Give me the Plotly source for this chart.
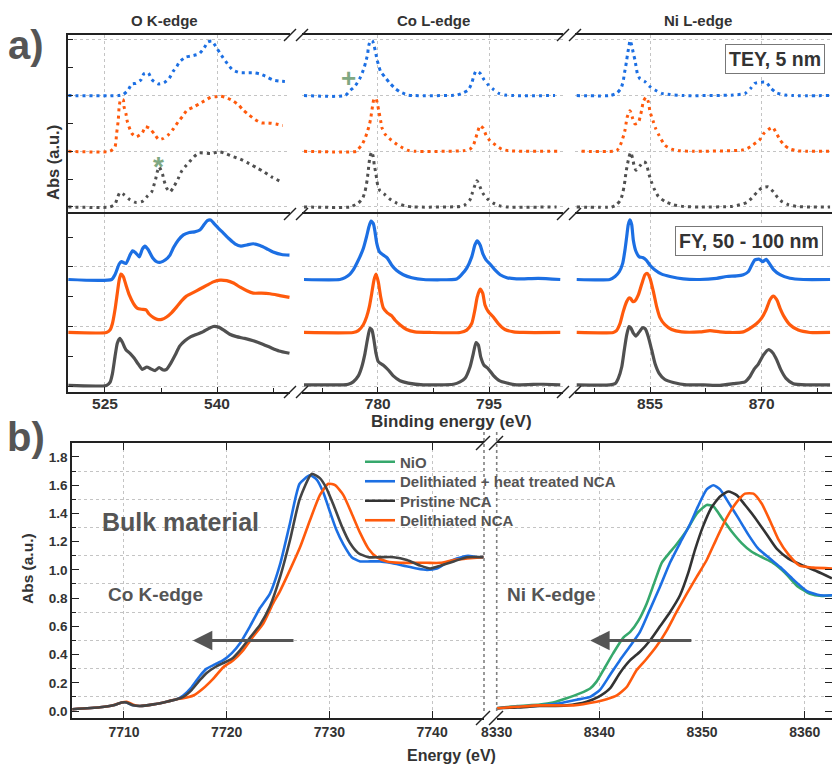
import plotly.graph_objects as go

W, H = 832, 765

# ---------------- Panel a) : TEY (dotted) ----------------
tey_o_blue_x = [520.1, 526.8, 527.45, 528.1, 528.6, 529.15, 529.8, 530.2, 530.8, 531.25, 532.1, 532.9, 533.6, 534.1, 534.6, 535.0, 535.8, 536.5, 537.6, 538.25, 538.75, 539.3, 539.9, 540.4, 541.4, 542.1, 543.1, 544.0, 544.9, 545.7, 546.6, 547.5, 548.4, 549.4]
tey_o_blue_y = [2.0, 2.0, 2.02, 2.10, 2.21, 2.22, 2.28, 2.39, 2.41, 2.29, 2.21, 2.23, 2.31, 2.43, 2.52, 2.61, 2.69, 2.71, 2.75, 2.85, 2.96, 2.98, 2.87, 2.76, 2.57, 2.46, 2.41, 2.41, 2.41, 2.39, 2.34, 2.28, 2.26, 2.25]
tey_o_orange_x = [520.1, 525.67, 526.34, 526.56, 526.78, 526.9, 527.1, 527.45, 527.55, 527.8, 528.0, 528.6, 529.2, 530.0, 530.4, 531.0, 531.6, 532.2, 532.8, 533.6, 534.2, 534.8, 535.4, 536.0, 536.8, 537.6, 538.5, 539.15, 539.9, 540.5, 541.3, 542.2, 542.9, 543.5, 544.3, 545.1, 545.95, 546.85, 547.9, 548.8]
tey_o_orange_y = [1.0, 1.0, 1.08, 1.32, 1.56, 1.80, 1.93, 1.92, 1.80, 1.68, 1.53, 1.32, 1.26, 1.33, 1.44, 1.41, 1.31, 1.21, 1.23, 1.31, 1.41, 1.53, 1.63, 1.74, 1.79, 1.85, 1.92, 1.97, 1.98, 1.99, 1.96, 1.90, 1.83, 1.74, 1.65, 1.57, 1.51, 1.51, 1.49, 1.46]
tey_o_gray_x = [520.1, 525.67, 526.34, 526.65, 527.0, 527.55, 528.35, 529.2, 530.0, 530.65, 531.25, 531.55, 531.8, 532.0, 532.25, 532.7, 532.9, 533.25, 533.7, 534.2, 534.8, 535.2, 535.7, 536.3, 536.9, 537.6, 539.15, 540.4, 541.3, 542.2, 543.1, 544.0, 544.7, 545.5, 546.3, 547.3, 548.65]
tey_o_gray_y = [0.0, 0.0, 0.05, 0.16, 0.26, 0.22, 0.13, 0.08, 0.10, 0.19, 0.27, 0.39, 0.51, 0.63, 0.72, 0.59, 0.48, 0.34, 0.27, 0.36, 0.51, 0.63, 0.72, 0.81, 0.90, 0.97, 0.96, 0.99, 0.95, 0.90, 0.86, 0.80, 0.75, 0.69, 0.63, 0.54, 0.45]

tey_co_blue_x = [770.07, 775.6, 776.27, 776.94, 777.6, 778.15, 778.4, 778.65, 778.73, 778.96, 779.27, 779.54, 779.73, 779.9, 780.13, 780.4, 780.98, 781.66, 782.33, 783.1, 784.1, 785.0, 790.65, 791.54, 792.2, 792.67, 792.9, 793.25, 793.8, 794.3, 794.9, 795.6, 796.35, 797.15, 798.3, 803.9]
tey_co_blue_y = [2.0, 2.0, 2.09, 2.17, 2.31, 2.49, 2.61, 2.75, 2.85, 2.97, 2.99, 2.88, 2.77, 2.65, 2.54, 2.43, 2.33, 2.22, 2.13, 2.06, 2.01, 2.0, 2.01, 2.05, 2.10, 2.22, 2.33, 2.44, 2.40, 2.29, 2.19, 2.11, 2.04, 2.01, 2.0, 2.0]
tey_co_orange_x = [770.07, 777.17, 777.39, 777.85, 778.29, 778.6, 778.87, 779.06, 779.19, 779.33, 779.5, 779.77, 779.95, 780.13, 780.4, 780.58, 780.98, 781.56, 782.33, 783.1, 783.99, 785.0, 791.54, 792.44, 792.89, 793.2, 793.47, 793.79, 794.23, 794.6, 795.13, 795.9, 796.7, 797.6, 804.3]
tey_co_orange_y = [1.0, 1.0, 1.04, 1.11, 1.23, 1.35, 1.47, 1.59, 1.71, 1.83, 1.94, 1.95, 1.86, 1.74, 1.55, 1.42, 1.31, 1.23, 1.15, 1.08, 1.02, 1.0, 1.01, 1.04, 1.11, 1.23, 1.35, 1.46, 1.41, 1.29, 1.19, 1.11, 1.04, 1.01, 1.0]
tey_co_gray_x = [770.07, 776.5, 776.7, 777.39, 777.98, 778.29, 778.46, 778.6, 778.73, 778.83, 778.96, 779.19, 779.41, 779.54, 779.73, 779.87, 780.0, 780.31, 780.98, 781.66, 782.56, 783.68, 784.8, 791.1, 791.77, 792.44, 792.75, 793.02, 793.38, 793.79, 794.15, 794.82, 795.58, 796.48, 797.4, 804.1]
tey_co_gray_y = [0.0, 0.0, 0.02, 0.07, 0.16, 0.28, 0.39, 0.51, 0.65, 0.78, 0.90, 0.99, 0.90, 0.75, 0.62, 0.50, 0.39, 0.29, 0.22, 0.14, 0.07, 0.02, 0.0, 0.01, 0.04, 0.13, 0.25, 0.36, 0.47, 0.36, 0.25, 0.14, 0.07, 0.02, 0.0, 0.0]

tey_ni_blue_x = [845.15, 849.6, 850.5, 851.1, 851.4, 851.55, 851.73, 851.87, 852.0, 852.18, 852.31, 852.54, 852.76, 852.98, 853.3, 853.66, 854.33, 854.9, 855.67, 856.57, 857.69, 859.5, 866.2, 867.77, 868.53, 869.1, 869.78, 870.6, 871.2, 872.0, 873.15, 874.26, 879.2]
tey_ni_blue_y = [2.0, 2.0, 2.04, 2.13, 2.26, 2.39, 2.52, 2.64, 2.76, 2.89, 2.99, 2.90, 2.76, 2.64, 2.40, 2.30, 2.25, 2.17, 2.10, 2.04, 2.02, 2.0, 2.01, 2.04, 2.13, 2.22, 2.24, 2.24, 2.14, 2.05, 2.01, 2.0, 2.0]
tey_ni_orange_x = [845.8, 850.07, 850.6, 851.1, 851.4, 851.64, 851.77, 851.95, 852.31, 852.67, 852.98, 853.43, 853.66, 853.88, 854.1, 854.46, 854.77, 855.0, 855.45, 855.76, 856.2, 857.0, 857.9, 859.03, 860.8, 867.3, 868.1, 868.8, 869.7, 870.3, 870.9, 871.5, 872.0, 872.5, 873.05, 873.8, 874.7, 876.06, 879.2]
tey_ni_orange_y = [1.0, 1.0, 1.02, 1.14, 1.26, 1.38, 1.49, 1.62, 1.73, 1.59, 1.49, 1.51, 1.61, 1.74, 1.89, 1.97, 1.89, 1.71, 1.53, 1.41, 1.29, 1.11, 1.04, 1.01, 1.0, 1.02, 1.05, 1.11, 1.20, 1.32, 1.39, 1.43, 1.32, 1.20, 1.11, 1.04, 1.01, 1.0, 1.0]
tey_ni_gray_x = [845.15, 849.85, 850.5, 851.06, 851.33, 851.5, 851.64, 851.77, 851.95, 852.18, 852.4, 852.67, 852.85, 853.12, 853.66, 854.1, 854.37, 854.64, 854.9, 855.22, 855.58, 856.12, 857.0, 858.13, 859.5, 861.7, 866.0, 867.1, 868.0, 868.67, 869.34, 870.0, 870.9, 871.6, 872.16, 872.7, 873.6, 874.7, 876.5, 879.2]
tey_ni_gray_y = [0.0, 0.0, 0.04, 0.13, 0.25, 0.36, 0.48, 0.62, 0.75, 0.90, 0.98, 0.87, 0.75, 0.66, 0.74, 0.81, 0.80, 0.71, 0.57, 0.44, 0.32, 0.19, 0.10, 0.04, 0.01, 0.0, 0.01, 0.04, 0.08, 0.16, 0.26, 0.34, 0.36, 0.27, 0.17, 0.10, 0.04, 0.01, 0.0, 0.0]

# ---------------- Panel a) : FY (solid) ----------------
fy_o_blue_x = [520.1, 525.9, 526.34, 526.9, 527.2, 527.8, 528.35, 528.7, 529.1, 529.6, 530.0, 530.35, 530.8, 531.4, 531.9, 532.45, 533.1, 533.7, 534.2, 534.8, 535.5, 536.3, 537.0, 537.7, 538.25, 538.7, 539.15, 539.6, 540.2, 540.85, 541.65, 542.4, 543.2, 544.0, 544.85, 545.75, 546.6, 547.5, 548.65, 549.7]
fy_o_blue_y = [1.79, 1.79, 1.87, 2.05, 2.09, 2.06, 2.20, 2.27, 2.24, 2.17, 2.30, 2.35, 2.29, 2.15, 2.09, 2.08, 2.12, 2.20, 2.33, 2.45, 2.54, 2.58, 2.59, 2.62, 2.71, 2.78, 2.79, 2.73, 2.65, 2.57, 2.47, 2.39, 2.35, 2.37, 2.39, 2.36, 2.31, 2.25, 2.21, 2.20]
fy_o_orange_x = [520.1, 525.2, 525.67, 526.0, 526.34, 526.65, 526.9, 527.14, 527.45, 527.8, 528.25, 528.8, 529.3, 529.9, 530.5, 530.9, 531.5, 532.0, 532.6, 533.25, 533.9, 534.6, 535.25, 535.9, 536.8, 537.7, 538.6, 539.5, 540.4, 541.3, 542.2, 543.1, 544.0, 544.85, 545.95, 547.1, 548.4, 549.7]
fy_o_orange_y = [0.90, 0.90, 0.94, 1.05, 1.28, 1.56, 1.78, 1.88, 1.84, 1.70, 1.53, 1.39, 1.31, 1.29, 1.28, 1.21, 1.15, 1.12, 1.12, 1.16, 1.23, 1.33, 1.43, 1.51, 1.57, 1.63, 1.69, 1.75, 1.78, 1.77, 1.73, 1.66, 1.60, 1.56, 1.56, 1.55, 1.52, 1.49]
fy_o_gray_x = [520.1, 525.2, 525.67, 526.0, 526.34, 526.65, 527.0, 527.35, 527.8, 528.35, 528.9, 529.45, 530.0, 530.6, 531.1, 531.7, 532.25, 532.8, 533.25, 533.8, 534.4, 535.0, 535.7, 536.5, 537.3, 538.1, 538.8, 539.5, 540.2, 540.9, 541.7, 542.6, 543.7, 544.85, 545.95, 547.1, 548.3, 549.7]
fy_o_gray_y = [0.01, 0.01, 0.06, 0.21, 0.49, 0.72, 0.80, 0.73, 0.61, 0.55, 0.47, 0.37, 0.28, 0.32, 0.29, 0.26, 0.31, 0.27, 0.28, 0.38, 0.52, 0.67, 0.76, 0.83, 0.87, 0.91, 0.96, 1.00, 0.99, 0.94, 0.87, 0.83, 0.80, 0.76, 0.71, 0.65, 0.59, 0.55]

fy_co_blue_x = [770.07, 774.9, 775.6, 776.27, 776.7, 777.17, 777.6, 778.06, 778.5, 778.83, 779.1, 779.41, 779.64, 779.87, 780.22, 780.76, 781.3, 781.9, 782.56, 783.45, 784.6, 786.15, 790.65, 791.3, 792.0, 792.67, 793.1, 793.4, 793.8, 794.15, 794.6, 795.13, 795.8, 796.5, 797.4, 798.7, 801.65, 804.6]
fy_co_blue_y = [1.79, 1.79, 1.82, 1.88, 1.95, 2.06, 2.17, 2.31, 2.51, 2.68, 2.77, 2.73, 2.59, 2.40, 2.26, 2.20, 2.15, 2.03, 1.94, 1.87, 1.82, 1.79, 1.80, 1.87, 1.98, 2.17, 2.37, 2.44, 2.37, 2.23, 2.12, 2.05, 1.95, 1.87, 1.82, 1.80, 1.81, 1.79]
fy_co_orange_x = [770.07, 776.7, 777.39, 778.06, 778.5, 778.87, 779.2, 779.5, 779.77, 780.08, 780.4, 780.76, 781.3, 781.9, 782.33, 783.0, 783.9, 785.0, 787.05, 791.1, 792.0, 792.67, 793.1, 793.4, 793.8, 794.15, 794.46, 794.9, 795.58, 796.25, 797.15, 798.3, 799.6, 804.6]
fy_co_orange_y = [0.90, 0.90, 0.93, 1.03, 1.16, 1.33, 1.56, 1.78, 1.88, 1.75, 1.50, 1.31, 1.23, 1.18, 1.11, 1.03, 0.95, 0.91, 0.90, 0.90, 0.94, 1.05, 1.28, 1.49, 1.63, 1.56, 1.36, 1.25, 1.16, 1.05, 0.95, 0.91, 0.90, 0.90]
fy_co_gray_x = [770.07, 775.36, 776.04, 776.7, 777.39, 777.85, 778.29, 778.6, 778.96, 779.23, 779.5, 779.77, 780.08, 780.76, 781.43, 782.1, 783.0, 784.12, 786.15, 790.2, 791.1, 791.77, 792.44, 792.89, 793.25, 793.56, 793.88, 794.33, 794.9, 795.58, 796.39, 797.4, 798.7, 801.65, 802.3, 804.6]
fy_co_gray_y = [0.02, 0.02, 0.03, 0.07, 0.17, 0.32, 0.55, 0.77, 0.97, 0.94, 0.77, 0.55, 0.41, 0.35, 0.27, 0.17, 0.09, 0.05, 0.02, 0.03, 0.07, 0.13, 0.32, 0.55, 0.73, 0.69, 0.49, 0.35, 0.29, 0.18, 0.09, 0.05, 0.02, 0.03, 0.03, 0.02]

fy_ni_blue_x = [845.15, 849.6, 850.3, 850.87, 851.33, 851.64, 851.87, 852.08, 852.31, 852.54, 852.76, 853.12, 853.56, 854.0, 854.46, 855.0, 855.67, 856.57, 857.69, 859.48, 861.7, 863.96, 865.3, 866.65, 867.54, 868.2, 868.67, 869.1, 869.7, 870.15, 870.6, 871.04, 871.57, 872.47, 873.8, 875.6, 879.2]
fy_ni_blue_y = [1.79, 1.79, 1.84, 1.92, 2.06, 2.29, 2.51, 2.71, 2.79, 2.71, 2.45, 2.26, 2.17, 2.16, 2.12, 2.03, 1.95, 1.88, 1.84, 1.80, 1.79, 1.81, 1.84, 1.85, 1.87, 1.92, 2.03, 2.12, 2.13, 2.09, 2.13, 2.06, 1.96, 1.87, 1.81, 1.79, 1.79]
fy_ni_orange_x = [845.15, 850.07, 850.5, 850.97, 851.4, 851.87, 852.18, 852.4, 852.67, 852.98, 853.43, 853.88, 854.33, 854.64, 855.0, 855.45, 855.9, 856.34, 857.0, 857.9, 859.26, 861.7, 863.06, 864.4, 865.75, 867.54, 868.44, 869.34, 870.0, 870.6, 871.13, 871.57, 872.03, 872.47, 873.0, 873.8, 874.93, 876.5, 879.2]
fy_ni_orange_y = [0.90, 0.90, 0.93, 1.05, 1.25, 1.42, 1.48, 1.47, 1.42, 1.43, 1.53, 1.71, 1.87, 1.89, 1.81, 1.59, 1.33, 1.15, 1.03, 0.95, 0.91, 0.91, 0.93, 0.91, 0.90, 0.91, 0.97, 1.05, 1.14, 1.28, 1.45, 1.51, 1.45, 1.31, 1.17, 1.03, 0.94, 0.90, 0.90]
fy_ni_gray_x = [845.15, 849.6, 850.3, 850.74, 851.2, 851.55, 851.87, 852.18, 852.45, 852.76, 853.12, 853.56, 854.0, 854.37, 854.77, 855.22, 855.67, 856.25, 857.0, 858.13, 859.93, 862.17, 864.4, 866.2, 867.77, 868.44, 868.98, 869.56, 870.23, 870.9, 871.49, 872.03, 872.56, 873.28, 874.26, 876.06, 879.2]
fy_ni_gray_y = [0.02, 0.02, 0.04, 0.13, 0.32, 0.61, 0.86, 1.00, 0.97, 0.89, 0.84, 0.91, 0.98, 0.96, 0.83, 0.61, 0.38, 0.21, 0.11, 0.06, 0.02, 0.02, 0.01, 0.04, 0.07, 0.16, 0.28, 0.37, 0.52, 0.61, 0.56, 0.44, 0.28, 0.13, 0.04, 0.02, 0.02]

# ---------------- Panel b) : Co K-edge ----------------
cok_blue_x = [7704.97, 7707.66, 7708.96, 7709.77, 7710.26, 7710.9, 7711.56, 7712.85, 7714.15, 7715.13, 7715.77, 7716.6, 7717.4, 7718.05, 7718.86, 7719.67, 7720.5, 7721.3, 7722.27, 7723.24, 7724.2, 7725.2, 7726.16, 7727.1, 7728.1, 7728.76, 7729.4, 7730.06, 7730.7, 7731.36, 7732.17, 7733.0, 7733.95, 7734.93, 7735.9, 7737.2, 7738.5, 7739.5, 7740.45, 7741.4, 7742.4, 7743.5, 7744.35, 7745.0]
cok_blue_y = [0.012, 0.026, 0.04, 0.06, 0.06, 0.04, 0.035, 0.047, 0.066, 0.083, 0.11, 0.17, 0.25, 0.30, 0.33, 0.36, 0.41, 0.48, 0.60, 0.73, 0.83, 1.04, 1.33, 1.61, 1.67, 1.64, 1.55, 1.41, 1.28, 1.18, 1.09, 1.06, 1.06, 1.06, 1.05, 1.03, 1.01, 1.00, 1.01, 1.05, 1.08, 1.10, 1.09, 1.09]
cok_black_x = [7704.97, 7707.66, 7708.96, 7709.77, 7710.26, 7710.9, 7711.56, 7712.85, 7714.15, 7715.13, 7715.77, 7716.6, 7717.4, 7718.05, 7718.86, 7719.67, 7720.5, 7721.3, 7722.27, 7723.24, 7724.2, 7725.2, 7726.16, 7727.1, 7728.27, 7729.07, 7729.7, 7730.4, 7731.2, 7732.0, 7732.8, 7733.8, 7734.93, 7736.25, 7737.55, 7738.85, 7739.8, 7740.8, 7742.1, 7743.4, 7745.0]
cok_black_y = [0.012, 0.026, 0.04, 0.06, 0.06, 0.04, 0.035, 0.047, 0.066, 0.083, 0.10, 0.15, 0.22, 0.27, 0.31, 0.34, 0.37, 0.43, 0.52, 0.61, 0.74, 0.95, 1.21, 1.50, 1.68, 1.65, 1.58, 1.46, 1.31, 1.19, 1.12, 1.09, 1.09, 1.09, 1.07, 1.03, 1.01, 1.03, 1.06, 1.09, 1.09]
cok_orange_x = [7704.97, 7707.66, 7708.96, 7709.77, 7710.26, 7710.9, 7711.56, 7712.85, 7714.15, 7715.13, 7715.77, 7716.75, 7717.7, 7718.7, 7719.67, 7720.64, 7721.6, 7722.6, 7723.56, 7724.5, 7725.19, 7726.16, 7727.14, 7728.1, 7729.07, 7729.9, 7730.55, 7731.36, 7732.17, 7733.0, 7733.8, 7734.6, 7735.6, 7736.9, 7738.2, 7739.5, 7740.8, 7742.1, 7743.4, 7745.0]
cok_orange_y = [0.012, 0.026, 0.04, 0.06, 0.065, 0.045, 0.035, 0.047, 0.066, 0.083, 0.09, 0.11, 0.16, 0.23, 0.31, 0.36, 0.43, 0.53, 0.62, 0.76, 0.85, 1.0, 1.16, 1.35, 1.53, 1.61, 1.60, 1.53, 1.40, 1.26, 1.15, 1.09, 1.06, 1.05, 1.05, 1.05, 1.05, 1.07, 1.08, 1.09]

# ---------------- Panel b) : Ni K-edge ----------------
nik_green_x = [8330, 8332, 8334.2, 8335.5, 8336.8, 8338.1, 8339.1, 8339.74, 8340.55, 8341.35, 8342.33, 8343.0, 8343.8, 8344.6, 8345.4, 8346.07, 8346.7, 8347.5, 8348.5, 8349.5, 8350.45, 8351.1, 8351.9, 8352.9, 8353.85, 8354.8, 8355.8, 8356.9, 8358.07, 8359.2, 8360.5, 8361.65, 8362.65]
nik_green_y = [0.02, 0.035, 0.045, 0.06, 0.09, 0.125, 0.16, 0.21, 0.31, 0.41, 0.52, 0.56, 0.64, 0.76, 0.92, 1.05, 1.11, 1.18, 1.28, 1.40, 1.46, 1.45, 1.37, 1.27, 1.19, 1.13, 1.09, 1.05, 0.98, 0.89, 0.83, 0.815, 0.82]
nik_blue_x = [8330, 8332, 8334.2, 8336.16, 8337.8, 8339.1, 8340.06, 8341.03, 8342.0, 8343.0, 8343.95, 8344.93, 8345.9, 8346.87, 8347.85, 8348.8, 8349.6, 8350.45, 8351.1, 8351.75, 8352.55, 8353.5, 8354.5, 8355.47, 8356.6, 8357.6, 8358.9, 8360.2, 8361.5, 8362.65]
nik_blue_y = [0.02, 0.03, 0.04, 0.055, 0.08, 0.10, 0.15, 0.255, 0.36, 0.46, 0.56, 0.72, 0.88, 1.05, 1.19, 1.32, 1.45, 1.57, 1.60, 1.57, 1.48, 1.37, 1.25, 1.15, 1.08, 1.02, 0.93, 0.85, 0.82, 0.82]
nik_black_x = [8330, 8332, 8334.2, 8336.8, 8338.76, 8339.9, 8341.03, 8342.0, 8343.0, 8343.95, 8344.93, 8345.9, 8346.87, 8347.85, 8348.66, 8349.3, 8350.1, 8350.9, 8351.75, 8352.55, 8353.37, 8354.18, 8355.15, 8356.3, 8357.26, 8358.4, 8359.85, 8361.16, 8362.65]
nik_black_y = [0.02, 0.025, 0.035, 0.04, 0.066, 0.10, 0.16, 0.27, 0.36, 0.42, 0.50, 0.60, 0.70, 0.82, 0.98, 1.14, 1.31, 1.44, 1.52, 1.555, 1.53, 1.46, 1.37, 1.25, 1.15, 1.08, 1.03, 0.99, 0.94]
nik_orange_x = [8330, 8332, 8334.2, 8337.46, 8339.74, 8340.7, 8341.7, 8342.66, 8343.63, 8344.6, 8345.58, 8346.55, 8347.5, 8348.5, 8349.47, 8350.45, 8351.4, 8352.4, 8353.37, 8354.18, 8355.0, 8355.8, 8356.6, 8357.4, 8358.4, 8359.5, 8360.8, 8362.65]
nik_orange_y = [0.02, 0.03, 0.04, 0.04, 0.066, 0.083, 0.11, 0.17, 0.29, 0.37, 0.46, 0.57, 0.70, 0.83, 0.95, 1.07, 1.22, 1.37, 1.48, 1.54, 1.54, 1.47, 1.35, 1.22, 1.11, 1.03, 1.016, 1.01]

legend_names = ["NiO", "Delithiated + heat treated NCA", "Pristine NCA", "Delithiated NCA"]
panel_a_titles = ["O K-edge", "Co L-edge", "Ni L-edge"]

# ---------------- styling ----------------
FONT = "Liberation Sans, Arial, sans-serif"
BLUE = "#1c6fe3"
ORANGE = "#ff5a0c"
GRAY = "#505050"
DARK = "#333333"
GREEN = "#36a86c"
AX = "#222222"
GRID = "#c4c4c4"
TXT = "#333333"
LBL = "#555555"


def px(xp):
    return xp / W


def py(yp):
    return 1 - yp / H


fig = go.Figure()


def add(x, y, color, xa, ya, dash=None, width=3.2, name=None, show=False, legend=None):
    assert len(x) == len(y), (name, len(x), len(y))
    line = dict(color=color, width=width, shape="spline", smoothing=0.55)
    if dash:
        line["dash"] = dash
    kw = {}
    if legend:
        kw["legend"] = legend
    fig.add_trace(go.Scatter(x=x, y=y, mode="lines", line=line, xaxis=xa, yaxis=ya,
                             name=name, showlegend=show, hoverinfo="skip", **kw))


DOT = "3px,4px"
# TEY
add(tey_o_blue_x, tey_o_blue_y, BLUE, "x", "y", DOT, 3)
add(tey_o_orange_x, tey_o_orange_y, ORANGE, "x", "y", DOT, 3)
add(tey_o_gray_x, tey_o_gray_y, GRAY, "x", "y", DOT, 3)
add(tey_co_blue_x, tey_co_blue_y, BLUE, "x2", "y2", DOT, 3)
add(tey_co_orange_x, tey_co_orange_y, ORANGE, "x2", "y2", DOT, 3)
add(tey_co_gray_x, tey_co_gray_y, GRAY, "x2", "y2", DOT, 3)
add(tey_ni_blue_x, tey_ni_blue_y, BLUE, "x3", "y3", DOT, 3)
add(tey_ni_orange_x, tey_ni_orange_y, ORANGE, "x3", "y3", DOT, 3)
add(tey_ni_gray_x, tey_ni_gray_y, GRAY, "x3", "y3", DOT, 3)
# FY
add(fy_o_blue_x, fy_o_blue_y, BLUE, "x4", "y4")
add(fy_o_orange_x, fy_o_orange_y, ORANGE, "x4", "y4")
add(fy_o_gray_x, fy_o_gray_y, GRAY, "x4", "y4")
add(fy_co_blue_x, fy_co_blue_y, BLUE, "x5", "y5")
add(fy_co_orange_x, fy_co_orange_y, ORANGE, "x5", "y5")
add(fy_co_gray_x, fy_co_gray_y, GRAY, "x5", "y5")
add(fy_ni_blue_x, fy_ni_blue_y, BLUE, "x6", "y6")
add(fy_ni_orange_x, fy_ni_orange_y, ORANGE, "x6", "y6")
add(fy_ni_gray_x, fy_ni_gray_y, GRAY, "x6", "y6")
# Panel b
add(cok_blue_x, cok_blue_y, BLUE, "x7", "y7", width=2.6)
add(cok_orange_x, cok_orange_y, ORANGE, "x7", "y7", width=2.6)
add(cok_black_x, cok_black_y, "#444444", "x7", "y7", width=2.6)
add(nik_green_x, nik_green_y, GREEN, "x8", "y8", width=2.6, name=legend_names[0], show=True, legend="legend")
add(nik_blue_x, nik_blue_y, BLUE, "x8", "y8", width=2.6, name=legend_names[1], show=True, legend="legend2")
add(nik_black_x, nik_black_y, DARK, "x8", "y8", width=2.6, name=legend_names[2], show=True, legend="legend3")
add(nik_orange_x, nik_orange_y, ORANGE, "x8", "y8", width=2.6, name=legend_names[3], show=True, legend="legend4")

# ---------------- axes ----------------
tick_a = dict(family=FONT, size=15.5, color=TXT, weight="bold")
tick_b = dict(family=FONT, size=14, color=TXT, weight="bold")

col_dom = [[px(68), px(290)], [px(302), px(563)], [px(575), 1.0]]
col_rng = [[520.05, 549.77], [769.8, 804.97], [844.92, 879.46]]
col_t0 = [525, 780, 855]
tey_dom = [py(214), py(35)]
fy_dom = [py(392), py(214)]
tey_rng = [-0.126, 3.088]
fy_rng = [-0.10, 2.89]

lay = {}
for i in range(3):
    sfx = "" if i == 0 else str(i + 1)
    # TEY row x-axes: only the top frame line (no labels)
    lay["xaxis" + sfx] = dict(
        domain=col_dom[i], range=col_rng[i], anchor="y" + sfx, side="top",
        showline=True, linecolor=AX, linewidth=1.6, mirror=False, ticks="",
        showticklabels=False, tick0=col_t0[i], dtick=15, showgrid=True, gridcolor=GRID,
        griddash="dot", gridwidth=1, zeroline=False, automargin=False)
    # FY row x-axes
    lay["xaxis" + str(i + 4)] = dict(
        domain=col_dom[i], range=col_rng[i], anchor="y" + str(i + 4),
        showline=True, linecolor=AX, linewidth=1.6, mirror=True, ticks="inside", ticklen=5,
        tickcolor=AX, tickwidth=1.3, tickfont=tick_a, tick0=col_t0[i], dtick=15,
        ticklabelstandoff=-3,
        minor=dict(dtick=7.5, ticks="inside", ticklen=4, tickcolor=AX),
        showgrid=True, gridcolor=GRID, griddash="dot", gridwidth=1, zeroline=False,
        automargin=False)
    first = (i == 0)
    lay["yaxis" + sfx] = dict(
        domain=tey_dom, range=tey_rng, anchor="x" + sfx,
        showline=first, linecolor=AX, linewidth=1.6, ticks="inside" if first else "",
        ticklen=5, tickcolor=AX, tick0=0, dtick=1, showticklabels=False,
        minor=dict(dtick=0.5, ticks="inside" if first else "", ticklen=5, tickcolor=AX),
        showgrid=True, gridcolor=GRID, griddash="dot", gridwidth=1, zeroline=False,
        automargin=False)
    lay["yaxis" + str(i + 4)] = dict(
        domain=fy_dom, range=fy_rng, anchor="x" + str(i + 4),
        showline=first, linecolor=AX, linewidth=1.6, ticks="inside" if first else "",
        ticklen=5, tickcolor=AX, tick0=0, dtick=1, showticklabels=False,
        minor=dict(dtick=0.5, ticks="inside" if first else "", ticklen=5, tickcolor=AX),
        showgrid=True, gridcolor=GRID, griddash="dot", gridwidth=1, zeroline=False,
        automargin=False)

b_dom = [py(718), py(443)]
b_rng = [-0.0496, 1.899]
lay["xaxis7"] = dict(domain=[px(72), px(484)], range=[7704.94, 7745.05], anchor="y7",
                     showline=True, linecolor=AX, linewidth=1.6, mirror="ticks",
                     ticks="inside", ticklen=7, tickcolor=AX, tickwidth=1.3, tick0=7710, dtick=10,
                     tickfont=tick_b, showgrid=True, gridcolor=GRID, griddash="dot", zeroline=False,
                     automargin=False)
lay["xaxis8"] = dict(domain=[px(496.7), 1.0], range=[8330, 8362.65], anchor="y8",
                     showline=True, linecolor=AX, linewidth=1.6, mirror="ticks",
                     ticks="inside", ticklen=7, tickcolor=AX, tickwidth=1.3, tick0=8330, dtick=10,
                     tickfont=tick_b, showgrid=True, gridcolor=GRID, griddash="dot", zeroline=False,
                     automargin=False)
lay["yaxis7"] = dict(domain=b_dom, range=b_rng, anchor="x7", showline=True, linecolor=AX,
                     linewidth=1.6, ticks="inside", ticklen=7, tickcolor=AX, tickwidth=1.3,
                     tick0=0, dtick=0.2, tickformat=".1f",
                     tickfont=dict(family=FONT, size=13.5, color=TXT, weight="bold"),
                     showgrid=False, zeroline=False, automargin=False,
                     minor=dict(dtick=0.1, ticks="inside", ticklen=4, tickcolor=AX,
                                showgrid=True, gridcolor=GRID, griddash="dot"))
lay["yaxis8"] = dict(domain=b_dom, range=b_rng, anchor="x8", side="right", showline=False,
                     ticks="inside", ticklen=7, tickcolor=AX, tickwidth=1.3, tick0=0, dtick=0.2,
                     showticklabels=False, showgrid=False, zeroline=False, automargin=False,
                     minor=dict(dtick=0.1, ticks="inside", ticklen=7, tickcolor=AX,
                                showgrid=True, gridcolor=GRID, griddash="dot"))

# ---------------- shapes (axis breaks) ----------------
shapes = []


def slash(cx, cy, s=6):
    shapes.append(dict(type="line", xref="paper", yref="paper",
                       x0=px(cx - s), y0=py(cy + s), x1=px(cx + s), y1=py(cy - s),
                       line=dict(color=AX, width=1.5)))


for cy in (35, 214, 392):
    for cx in (290, 302, 563, 575):
        slash(cx, cy, 6)
for cy in (443, 718):
    for cx in (483, 496):
        slash(cx, cy, 7)
for cx in (484, 496.7):
    shapes.append(dict(type="line", xref="paper", yref="paper", x0=px(cx), x1=px(cx),
                       y0=py(432), y1=py(712), line=dict(color="#808080", width=1.6, dash="dot")))

# ---------------- annotations ----------------
ann = []


def text(t, xp, yp, size, color=TXT, angle=0, **kw):
    d = dict(text=t, x=px(xp), y=py(yp), xref="paper", yref="paper", showarrow=False,
             xanchor="center", yanchor="middle", textangle=angle,
             font=dict(family=FONT, size=size, color=color, weight="bold"))
    d.update(kw)
    ann.append(d)


text("a)", 26, 45, 40, LBL)
text("b)", 26, 437, 40, LBL)
text(panel_a_titles[0], 164, 20, 15, TXT)
text(panel_a_titles[1], 433, 20, 15, TXT)
text(panel_a_titles[2], 698, 20, 15, TXT)
text("Abs (a.u.)", 53, 163, 16.5, TXT, angle=-90)
text("Binding energy (eV)", 451, 421, 17, TXT)
text("Abs (a.u.)", 27, 569, 15.5, TXT, angle=-90)
text("Energy (eV)", 452, 755, 16, TXT)
text("TEY, 5 nm", 774.5, 59.5, 19.5, TXT, bordercolor="#777777", borderwidth=1, borderpad=3, bgcolor="white")
text("FY, 50 - 100 nm", 748.5, 240.5, 19.5, TXT, bordercolor="#777777", borderwidth=1, borderpad=3, bgcolor="white")
text("*", 158, 166, 28, "#7fa882")
text("+", 348, 78, 26, "#7fa882")
text("Bulk material", 180, 522, 25, LBL)
text("Co K-edge", 155, 594, 19, LBL)
text("Ni K-edge", 551, 594, 19, LBL)

# arrows (edge shift)
ann.append(dict(x=7716.7, y=0.5, ax=7726.65, ay=0.5, xref="x7", yref="y7", axref="x7", ayref="y7",
                text="", showarrow=True, arrowhead=2, arrowsize=1.3, arrowwidth=3, arrowcolor="#555555"))
ann.append(dict(x=8339.1, y=0.5, ax=8349.1, ay=0.5, xref="x8", yref="y8", axref="x8", ayref="y8",
                text="", showarrow=True, arrowhead=2, arrowsize=1.3, arrowwidth=3, arrowcolor="#555555"))

leg_font = dict(family=FONT, size=15, color=LBL, weight="bold")
legends = {}
for k, yc in enumerate([462, 481.5, 501, 520.5]):
    key = "legend" if k == 0 else "legend" + str(k + 1)
    legends[key] = dict(x=px(360), y=py(yc), xanchor="left", yanchor="middle",
                        bgcolor="rgba(0,0,0,0)", font=leg_font, borderwidth=0)

fig.update_layout(
    template="none",
    width=W, height=H, margin=dict(l=0, r=0, t=0, b=0, autoexpand=False),
    paper_bgcolor="white", plot_bgcolor="white",
    showlegend=True,
    shapes=shapes, annotations=ann, **legends, **lay)

fig.write_html("out.html")
